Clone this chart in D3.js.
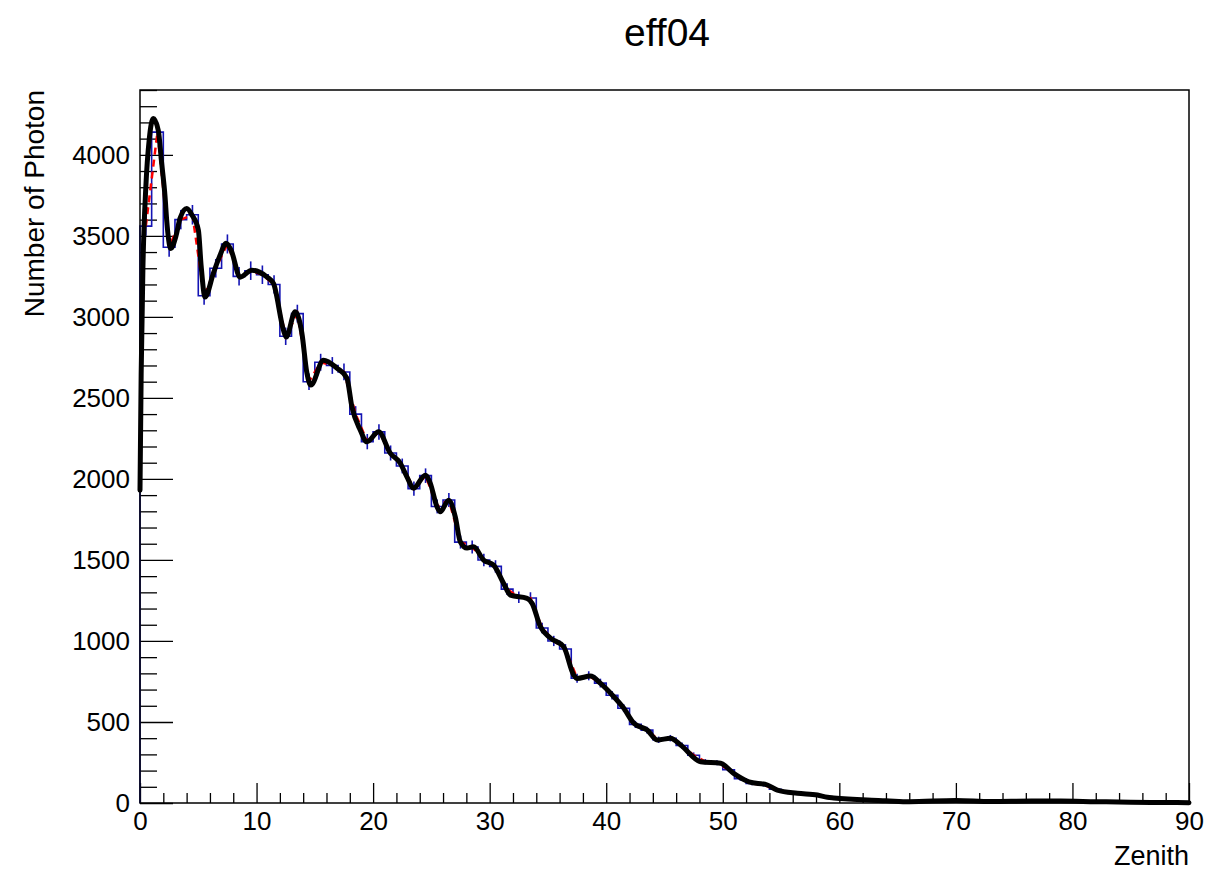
<!DOCTYPE html>
<html>
<head>
<meta charset="utf-8">
<script src="https://cdn.jsdelivr.net/npm/d3@7"></script>
<style>
  body { margin: 0; background: #fff; }
  svg { display: block; }
  text { font-family: "Liberation Sans", Arial, Helvetica, sans-serif; fill: #000; }
</style>
</head>
<body>
<svg id="chart" width="1217" height="879"></svg>
<script>
// Histogram contents: photons per 1-degree zenith bin, bins [0,1) ... [89,90)
const photonCounts = [
  3560, 4140, 3430, 3600, 3630, 3130, 3300, 3450, 3250, 3285,
  3260, 3200, 2880, 3020, 2600, 2720, 2700, 2660, 2400, 2230,
  2290, 2160, 2080, 1940, 2020, 1830, 1870, 1610, 1580, 1500,
  1460, 1320, 1270, 1265, 1080, 1000,  950,  770,  785,  740,
   665,  585,  485,  450,  390,  400,  355,  295,  255,  248,
   205,  150,  120,  112,   85,   68,   58,   52,   45,   32,
    22,   18,   14,   12,   14,   10,    8,    9,    8,   12,
    16,   12,   10,    8,    7,   10,   12,    9,   11,    8,
    10,    8,    6,    5,    4,    4,    3,    3,    2,    2
];

// Fine-grained smoothed distribution (zenith in degrees, photon count)
const curveZenith = [
  0, 0.1, 0.25, 0.5, 0.8, 1.14, 1.57, 1.86, 2.15, 2.29, 2.64, 3.09, 3.44, 4.01, 4.47,
  5.01, 5.24, 5.58, 6.30, 6.87, 7.39, 7.82, 8.59, 9.59, 10.88, 11.45, 12.31, 12.54,
  13.31, 13.89, 14.32, 14.66, 15.74, 16.89, 17.75, 18.18, 18.9, 19.47, 20.47, 21.47,
  22.33, 22.9, 23.47, 24.48, 24.9, 25.48, 25.76, 26.48, 27.05, 27.48, 28.06, 28.62,
  29.48, 30.34, 31.2, 31.78, 33.21, 33.64, 34.35, 35.21, 36.35, 37.21, 37.5, 38.65,
  39.51, 40.65, 41.51, 42.37, 43.52, 44.37, 45.52, 46.38, 48.1, 49.82, 50.93, 52.24,
  53.82, 54.68, 56.4, 58.12, 58.98, 59.52, 62.4, 64, 66, 70, 73, 76.5, 79, 82, 85, 88, 90
];
const curvePhotons = [
  1930, 2650, 3300, 3800, 4100, 4224, 4150, 3948, 3740, 3597, 3422, 3500, 3609, 3669, 3627,
  3535, 3319, 3123, 3270, 3381, 3455, 3411, 3245, 3288, 3247, 3206, 2918, 2875,
  3031, 2899, 2653, 2579, 2733, 2684, 2622, 2445, 2301, 2229, 2291, 2159,
  2097, 2013, 1943, 2023, 1974, 1828, 1797, 1869, 1766, 1612, 1573, 1581,
  1499, 1468, 1355, 1283, 1263, 1232, 1088, 1018, 964, 790, 769, 783,
  738, 656, 584, 492, 450, 389, 399, 358, 255, 245, 183, 131,
  111, 80, 60, 49, 35, 31, 18, 14, 8, 16, 9, 12, 12, 8, 5, 3, 2
];

const xTickLabels = [0, 10, 20, 30, 40, 50, 60, 70, 80, 90];
const yTickLabels = [0, 500, 1000, 1500, 2000, 2500, 3000, 3500, 4000];

const titleText = "eff04";
const xTitle = "Zenith";
const yTitle = "Number of Photon";

const binWidth = 1;
const frame = { left: 140, right: 1189, top: 90, bottom: 803 };

const svg = d3.select("#chart");

const x = d3.scaleLinear().domain([0, 90]).range([frame.left, frame.right]);
const y = d3.scaleLinear().domain([0, 4400]).range([frame.bottom, frame.top]);

const bins = photonCounts.map((v, i) => ({ lo: i * binWidth, hi: (i + 1) * binWidth, mid: (i + 0.5) * binWidth, v, err: Math.sqrt(v) }));

// ---- axes (ticks point into the frame) ----
const yMajorLen = 33, yMinorLen = 17, xMajorLen = 20, xMinorLen = 10;
const fontSize = 26;

const yMinor = d3.range(0, 4400 + 1, 100).filter(v => v % 500 !== 0);
svg.append("g")
  .attr("transform", `translate(${frame.left},0)`)
  .call(d3.axisLeft(y).tickValues(yMinor).tickFormat("").tickSizeInner(-yMinorLen).tickSizeOuter(0))
  .call(g => g.select(".domain").remove())
  .call(g => g.selectAll("line").attr("stroke", "#000").attr("stroke-width", 1.3));

svg.append("g")
  .attr("transform", `translate(${frame.left},0)`)
  .call(d3.axisLeft(y).tickValues(yTickLabels).tickFormat(d3.format("d")).tickSizeInner(-yMajorLen).tickSizeOuter(0).tickPadding(10))
  .call(g => g.select(".domain").remove())
  .call(g => g.selectAll("line").attr("stroke", "#000").attr("stroke-width", 1.3))
  .call(g => g.selectAll("text").attr("font-size", fontSize).attr("font-family", null));

const xMinor = d3.range(0, 91, 2).filter(v => v % 10 !== 0);
svg.append("g")
  .attr("transform", `translate(0,${frame.bottom})`)
  .call(d3.axisBottom(x).tickValues(xMinor).tickFormat("").tickSizeInner(-xMinorLen).tickSizeOuter(0))
  .call(g => g.select(".domain").remove())
  .call(g => g.selectAll("line").attr("stroke", "#000").attr("stroke-width", 1.3));

svg.append("g")
  .attr("transform", `translate(0,${frame.bottom})`)
  .call(d3.axisBottom(x).tickValues(xTickLabels).tickFormat(d3.format("d")).tickSizeInner(-xMajorLen).tickSizeOuter(0).tickPadding(9))
  .call(g => g.select(".domain").remove())
  .call(g => g.selectAll("line").attr("stroke", "#000").attr("stroke-width", 1.3))
  .call(g => g.selectAll("text").attr("font-size", fontSize).attr("font-family", null));

// ---- blue histogram: steps + statistical error bars ----
const blue = "#1414b4";
const stepPath = d3.path();
stepPath.moveTo(x(bins[0].lo), y(0));
bins.forEach(b => { stepPath.lineTo(x(b.lo), y(b.v)); stepPath.lineTo(x(b.hi), y(b.v)); });
stepPath.lineTo(x(bins[bins.length - 1].hi), y(0));
svg.append("path")
  .attr("d", stepPath.toString())
  .attr("fill", "none")
  .attr("stroke", blue)
  .attr("stroke-width", 1.6);

svg.append("g").selectAll("line")
  .data(bins)
  .join("line")
  .attr("x1", d => x(d.mid)).attr("x2", d => x(d.mid))
  .attr("y1", d => y(Math.max(0, d.v - d.err))).attr("y2", d => y(d.v + d.err))
  .attr("stroke", blue)
  .attr("stroke-width", 1.6);

// ---- red dashed line through the bin centres ----
svg.append("path")
  .datum(bins)
  .attr("d", d3.line().x(d => x(d.mid)).y(d => y(d.v)).curve(d3.curveLinear))
  .attr("fill", "none")
  .attr("stroke", "#ff0000")
  .attr("stroke-width", 2.5)
  .attr("stroke-dasharray", "7,5");

// ---- thick black smooth curve ----
const curvePts = curveZenith.map((z, i) => [z, curvePhotons[i]]);
svg.append("path")
  .datum(curvePts)
  .attr("d", d3.line().x(d => x(d[0])).y(d => y(d[1])).curve(d3.curveMonotoneX))
  .attr("fill", "none")
  .attr("stroke", "#000")
  .attr("stroke-width", 5)
  .attr("stroke-linejoin", "round")
  .attr("stroke-linecap", "round");

// ---- frame ----
svg.append("rect")
  .attr("x", frame.left).attr("y", frame.top)
  .attr("width", frame.right - frame.left).attr("height", frame.bottom - frame.top)
  .attr("fill", "none").attr("stroke", "#000").attr("stroke-width", 1.5);

// ---- titles ----
svg.append("text")
  .attr("x", 667).attr("y", 46)
  .attr("text-anchor", "middle")
  .attr("font-size", 39)
  .text(titleText);

svg.append("text")
  .attr("x", frame.right).attr("y", 865)
  .attr("text-anchor", "end")
  .attr("font-size", 27)
  .text(xTitle);

svg.append("text")
  .attr("transform", `translate(44,${frame.top}) rotate(-90)`)
  .attr("text-anchor", "end")
  .attr("font-size", 28)
  .text(yTitle);
</script>
</body>
</html>
